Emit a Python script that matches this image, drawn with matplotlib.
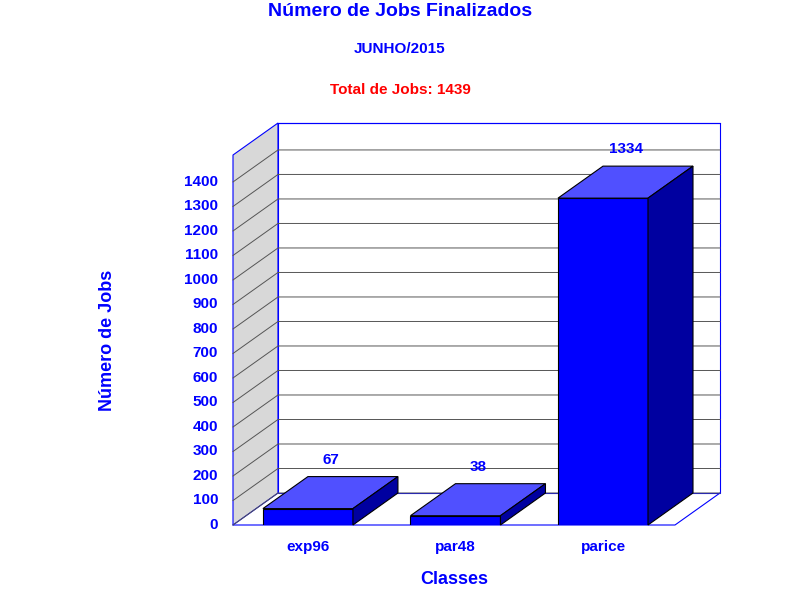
import matplotlib
matplotlib.use('Agg')
import matplotlib.pyplot as plt
from matplotlib.patches import Polygon

plt.rcParams['font.family'] = ['Liberation Sans', 'DejaVu Sans']

classes = ['exp96', 'par48', 'parice']
jobs = [67, 38, 1334]
yticks = list(range(0, 1500, 100))
title = 'Número de Jobs Finalizados'
subtitle = 'JUNHO/2015'
total_text = 'Total de Jobs: 1439'

BLUE = '#0000ff'
fig = plt.figure(figsize=(8, 6), dpi=100)
ax = fig.add_axes([233 / 800, 75 / 600, 442 / 800, 370 / 600])
x0, x1 = -0.508, 2.488
ymax = 1510
ax.set_xlim(x0, x1)
ax.set_ylim(0, ymax)
ax.axis('off')

dx, dy = 0.305, 130.6  # depth offset in data units
bw = 0.61

# side wall
ax.add_patch(Polygon([(x0, 0), (x0 + dx, dy), (x0 + dx, ymax + dy), (x0, ymax)],
                     closed=True, facecolor='#d8d8d8', edgecolor=BLUE, lw=0.8, clip_on=False, zorder=1))
# back plane and floor outline
ax.add_patch(Polygon([(x0 + dx, dy), (x1 + dx, dy), (x1 + dx, ymax + dy), (x0 + dx, ymax + dy)],
                     closed=True, facecolor='white', edgecolor=BLUE, lw=0.8, clip_on=False, zorder=1))
ax.plot([x0, x1, x1 + dx], [0, 0, dy], color=BLUE, lw=0.8, clip_on=False, zorder=1)

for v in yticks:
    ax.plot([x0, x0 + dx, x1 + dx], [v, v + dy, v + dy], color='#555555', lw=0.7, clip_on=False, zorder=2)
    ax.text(x0 - 0.1, v, str(v), ha='right', va='center', color=BLUE, fontsize=11, fontweight='bold')
ax.plot([x0 + dx, x1 + dx], [ymax + dy, ymax + dy], color=BLUE, lw=0.8, clip_on=False, zorder=2)

for i, (name, v) in enumerate(zip(classes, jobs)):
    l, r = i - bw / 2, i + bw / 2
    ax.bar(i, v, width=bw, color=BLUE, edgecolor='black', lw=0.8, zorder=5)
    ax.add_patch(Polygon([(l, v), (l + dx, v + dy), (r + dx, v + dy), (r, v)],
                         closed=True, facecolor='#5050ff', edgecolor='black', lw=0.8, clip_on=False, zorder=5))
    ax.add_patch(Polygon([(r, 0), (r + dx, dy), (r + dx, v + dy), (r, v)],
                         closed=True, facecolor='#0000a0', edgecolor='black', lw=0.8, clip_on=False, zorder=5))
    ax.text(i + dx / 2, v + dy + 40, str(v), ha='center', va='bottom', color=BLUE,
            fontsize=11, fontweight='bold')
    ax.text(i, -60, name, ha='center', va='top', color=BLUE, fontsize=11, fontweight='bold')

fig.text(400 / 800, 1 - 12 / 600, title, ha='center', va='center', color=BLUE, fontsize=14, fontweight='bold')
fig.text(400 / 800, 1 - 49 / 600, subtitle, ha='center', va='center', color=BLUE, fontsize=11, fontweight='bold')
fig.text(400 / 800, 1 - 90 / 600, total_text, ha='center', va='center', color='red', fontsize=11, fontweight='bold')
fig.text(108 / 800, 1 - 340 / 600, 'Número de Jobs', ha='center', va='center', rotation=90,
         color=BLUE, fontsize=13, fontweight='bold')
fig.text(454 / 800, 1 - 580 / 600, 'Classes', ha='center', va='center', color=BLUE, fontsize=13, fontweight='bold')

fig.savefig('out.png', dpi=100)
